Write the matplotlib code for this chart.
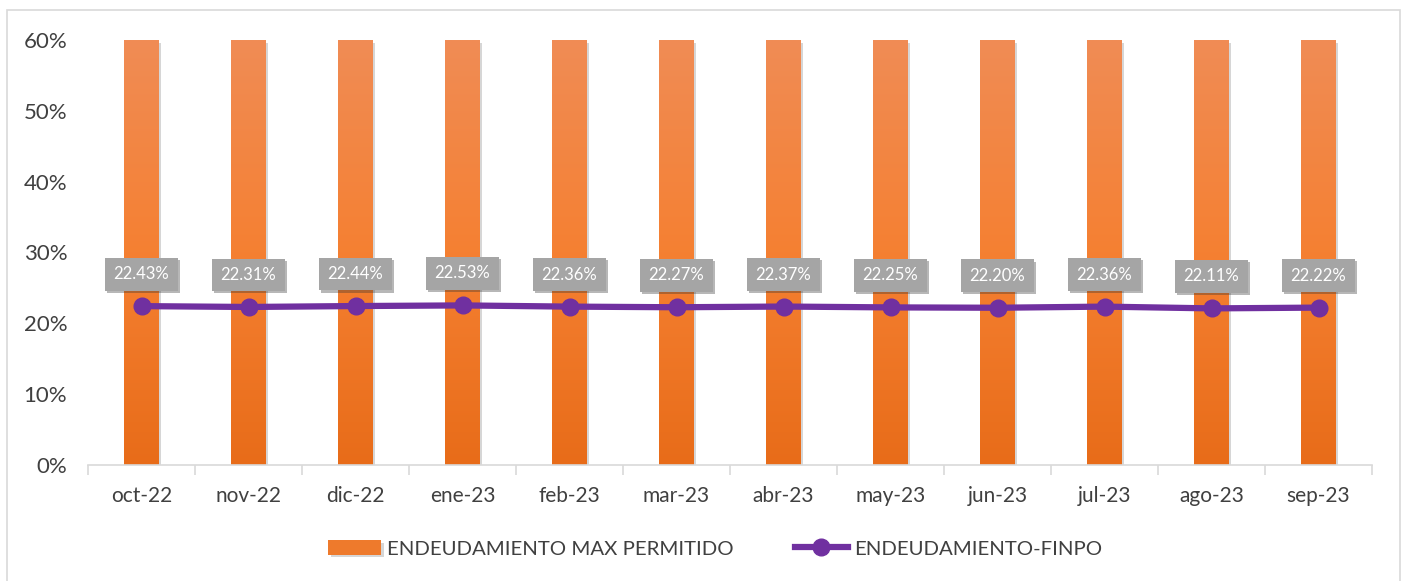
import matplotlib.pyplot as plt
import matplotlib.patheffects as pe
import numpy as np
from matplotlib.patches import Rectangle
from matplotlib.colors import LinearSegmentedColormap

plt.rcParams['font.family'] = ['Lato', 'DejaVu Sans']

# datos
meses = ['oct-22', 'nov-22', 'dic-22', 'ene-23', 'feb-23', 'mar-23',
         'abr-23', 'may-23', 'jun-23', 'jul-23', 'ago-23', 'sep-23']
max_permitido = [0.60] * 12
finpo = [0.2243, 0.2231, 0.2244, 0.2253, 0.2236, 0.2227,
         0.2237, 0.2225, 0.2220, 0.2236, 0.2211, 0.2222]

fig = plt.figure(figsize=(14.04, 5.81), dpi=100)
fig.patches.append(Rectangle((7 / 1404, -0.01), 1393 / 1404, 1 - 10 / 581 + 0.01,
                             transform=fig.transFigure, fill=False,
                             edgecolor='#D9D9D9', linewidth=1.2))
ax = fig.add_axes([88 / 1404, 116 / 581, 1284 / 1404, 425 / 581])

x = np.arange(len(meses))
bars = ax.bar(x, max_permitido, width=0.32, color='#EE7A2C', zorder=2,
              label='ENDEUDAMIENTO MAX PERMITIDO')

# degradado en las barras
grad = np.linspace(0, 1, 256).reshape(-1, 1)
cmap = LinearSegmentedColormap.from_list('nar', ['#E86C19', '#F58032', '#F08C55'])
for b in bars:
    b.set_path_effects([pe.SimplePatchShadow(offset=(2, -2), shadow_rgbFace='#999999', alpha=0.4), pe.Normal()])
    x0, y0, w, h = b.get_x(), b.get_y(), b.get_width(), b.get_height()
    im = ax.imshow(grad, extent=[x0, x0 + w, y0, y0 + h], origin='lower',
                   cmap=cmap, aspect='auto', zorder=2.1)
    im.set_clip_path(b)

ax.plot(x, finpo, color='#7030A0', linewidth=4.5, marker='o', markersize=12,
        zorder=4, label='ENDEUDAMIENTO-FINPO')

for xi, v in zip(x, finpo):
    ax.annotate(f'{v * 100:.2f}%', (xi, v), xytext=(0, 23), textcoords='offset points',
                ha='center', va='center', color='white', fontsize=12, zorder=5,
                bbox=dict(boxstyle='square,pad=0.5', facecolor='#A5A5A5',
                          edgecolor='none',
                          path_effects=[pe.SimplePatchShadow(offset=(1.5, -1.5), alpha=0.35), pe.Normal()]))

ax.set_xlim(-0.5, len(meses) - 0.5)
ax.set_ylim(0, 0.6)
ax.set_yticks(np.arange(0, 0.61, 0.1))
ax.set_yticklabels([f'{int(round(t * 100))}%' for t in np.arange(0, 0.61, 0.1)])
ax.set_xticks(x)
ax.set_xticklabels(meses)
ax.set_xticks(np.arange(-0.5, len(meses)), minor=True)
ax.tick_params(axis='x', which='major', length=0, pad=15, labelsize=15, labelcolor='#404040')
ax.tick_params(axis='x', which='minor', length=7, color='#D9D9D9', width=1.2)
ax.tick_params(axis='y', length=0, pad=15, labelsize=16, labelcolor='#404040')
for s in ['top', 'right', 'left']:
    ax.spines[s].set_visible(False)
ax.spines['bottom'].set_color('#D9D9D9')
ax.spines['bottom'].set_linewidth(1.2)

h, l = ax.get_legend_handles_labels()
order = [l.index('ENDEUDAMIENTO MAX PERMITIDO'), l.index('ENDEUDAMIENTO-FINPO')]
fig.legend([h[i] for i in order], [l[i] for i in order],
           loc='center', bbox_to_anchor=(715 / 1404, 1 - 549 / 581), ncol=2, frameon=False,
           fontsize=14.7, labelcolor='#404040', handlelength=2.6, columnspacing=3.0,
           handletextpad=0.3)

fig.savefig('out.png', dpi=100)
